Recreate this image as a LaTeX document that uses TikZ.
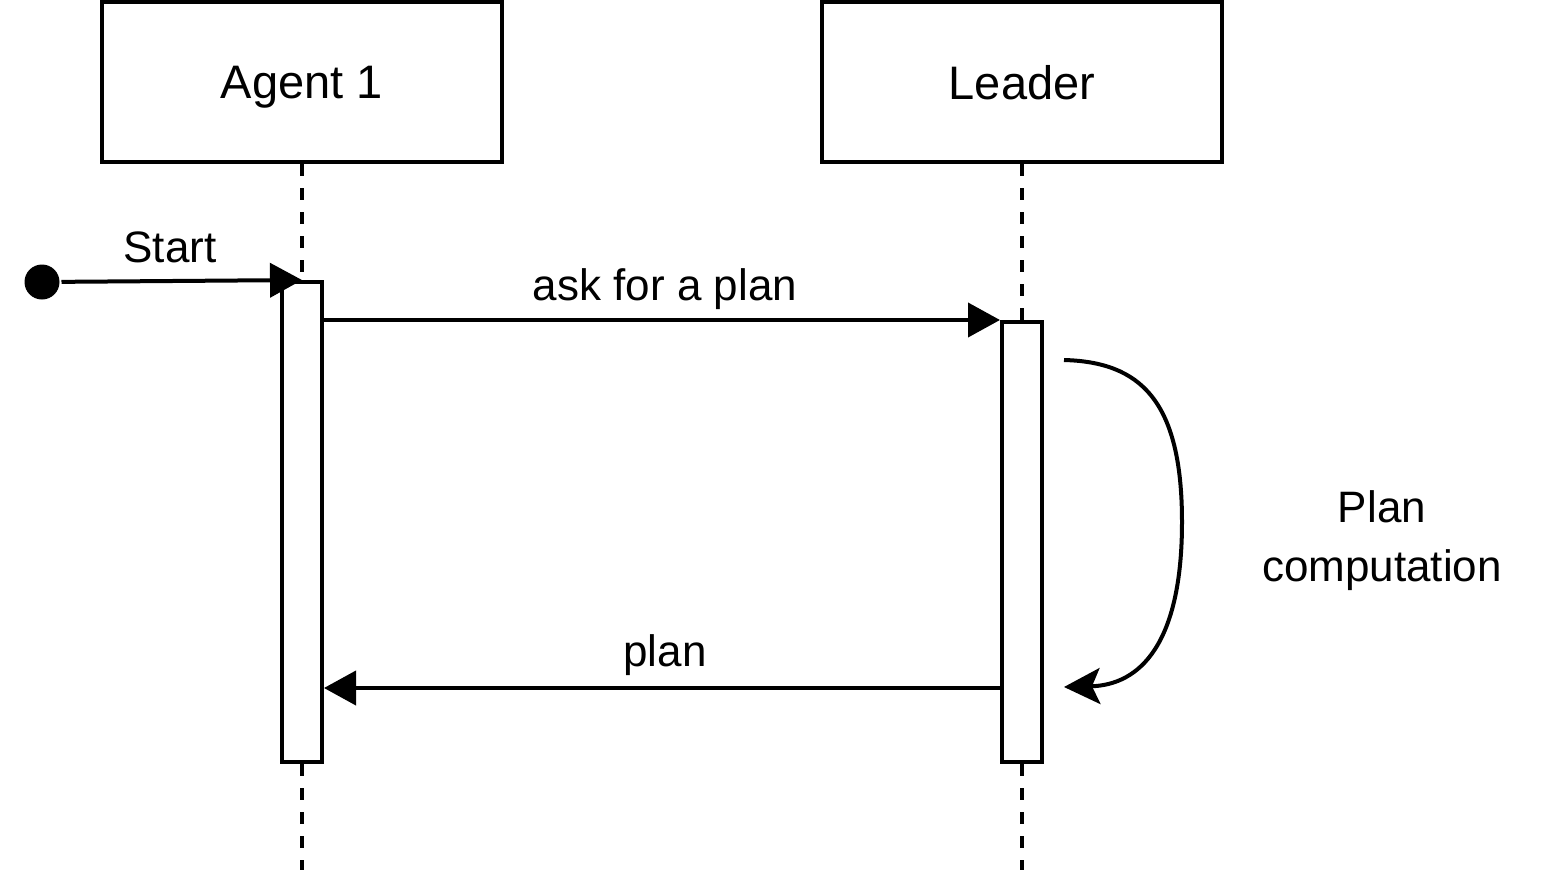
\documentclass[tikz,border=0pt]{standalone}
\usepackage{fontspec}
\setmainfont{Liberation Sans}
\usetikzlibrary{arrows.meta}
\begin{document}
\begin{tikzpicture}[x=0.5pt, y=-0.5pt, line width=2pt,
        actor/.style={draw, minimum width=200pt, minimum height=80pt, inner sep=0pt, text depth=0pt, font=\fontsize{23.5}{28}\selectfont},
        bar/.style={draw, fill=white, minimum width=20pt, inner sep=0pt},
        msg/.style={-{Triangle[length=16pt, width=17pt]}},
        lbl/.style={inner sep=0pt, anchor=base, font=\fontsize{22}{29.5}\selectfont},
        lifeline/.style={dash pattern=on 6pt off 6pt}]
            \useasboundingbox (0, 0) rectangle (1548, 884);

            \node[actor] (agent) at (302, 82) {Agent 1};

            \node[actor] (leader) at (1022, 82) {Leader};

            \coordinate (agentend) at (302, 870);
            \coordinate (leaderend) at (1022, 870);

            \draw[lifeline] (agent.south) -- (agentend);

            \draw[lifeline] (leader.south) -- (leaderend);

            \node[bar, minimum height=240pt] (agentbar) at (302, 522) {};

            \node[bar, minimum height=220pt] (leaderbar) at (1022, 542) {};

            \node[circle, fill, minimum size=17.5pt, inner sep=0pt] (start) at (42, 282) {};

            \draw[msg] (start) -- (agentbar.north);
            \node[lbl] (startlbl) at (170, 262) {Start};

            \draw[msg] (agentbar.east |- leaderbar.north west) -- (leaderbar.north west);
            \node[lbl] (asklbl) at (665, 300) {ask for a plan};

            \draw[msg] ([yshift=38pt]leaderbar.south west) -- ([yshift=38pt]agentbar.south east);
            \node[lbl] (planlbl) at (665, 666) {plan};

            \draw[-{Stealth[length=18pt, width=18pt, inset=4pt]}] ([xshift=10pt, yshift=-20pt]leaderbar.north east)
                .. controls (1140, 362) and (1182, 400) .. (1182, 522)
                .. controls (1182, 644) and (1140, 685) .. ([xshift=10pt, yshift=38.5pt]leaderbar.south east);
            \node[lbl, align=center] (complbl) at (1382, 581) {Plan\\computation};
        \end{tikzpicture}
\end{document}
